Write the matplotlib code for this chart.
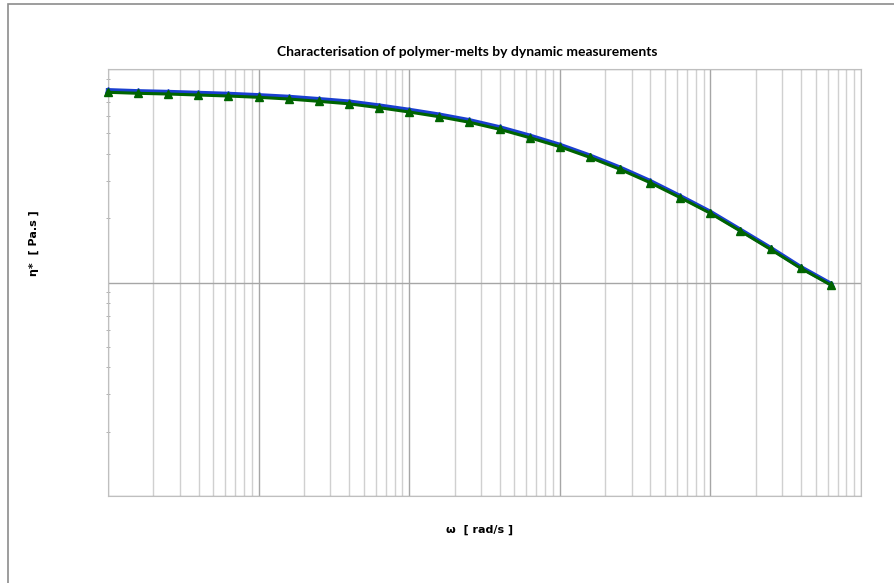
import numpy as np
import matplotlib
matplotlib.use('Agg')
import matplotlib.pyplot as plt
from matplotlib.patches import Rectangle
from matplotlib.ticker import LogLocator, NullFormatter

# angular frequency, 0.2 decade steps
omega = [0.01, 0.0158, 0.0251, 0.0398, 0.0631, 0.1, 0.158, 0.251, 0.398, 0.631,
         1.0, 1.58, 2.51, 3.98, 6.31, 10.0, 15.8, 25.1, 39.8, 63.1,
         100.0, 158.0, 251.0, 398.0, 631.0]
# complex viscosity, two measurements
eta_blue = [7950, 7860, 7800, 7720, 7640, 7530, 7400, 7220, 7030, 6740,
            6430, 6110, 5750, 5330, 4870, 4410, 3930, 3450, 2985, 2535,
            2140, 1765, 1450, 1180, 985]
eta_green = [7778, 7694, 7635, 7553, 7472, 7368, 7235, 7057, 6871, 6588,
             6289, 5978, 5629, 5219, 4768, 4326, 3858, 3390, 2934, 2496,
             2109, 1743, 1430, 1166, 973]

fig = plt.figure(figsize=(8.94, 5.83), dpi=100)
fig.patches.append(Rectangle((8 / 894, -0.05), 1.2, 1 - 4 / 583 + 0.05,
                             transform=fig.transFigure, fill=False,
                             edgecolor='#8c8c8c', linewidth=1.2))
ax = fig.add_axes([108 / 894, 1 - 496 / 583, 753 / 894, 427 / 583])

ax.plot(omega, eta_blue, color='#1a3fd0', lw=3.2, marker='^', ms=4,
        mec='#1a3fd0', mfc='#1a3fd0', zorder=3, clip_on=False)
ax.plot(omega, eta_green, color='#006400', lw=2.2, marker='^', ms=6,
        mec='#006400', mfc='#006400', zorder=4, clip_on=False)

ax.set_xscale('log')
ax.set_yscale('log')
ax.set_xlim(0.01, 1000)
ax.set_ylim(100, 10000)

ax.xaxis.set_minor_locator(LogLocator(base=10, subs=np.arange(2, 10)))
ax.yaxis.set_minor_locator(LogLocator(base=10, subs=np.arange(2, 10)))
ax.xaxis.set_major_formatter(NullFormatter())
ax.xaxis.set_minor_formatter(NullFormatter())
ax.yaxis.set_major_formatter(NullFormatter())
ax.yaxis.set_minor_formatter(NullFormatter())

ax.grid(True, which='major', axis='both', color='#a6a6a6', lw=1.0)
ax.grid(True, which='minor', axis='x', color='#d0d0d0', lw=1.0)
ax.tick_params(which='both', axis='x', length=0)
ax.tick_params(which='major', axis='y', length=0)
ax.tick_params(which='minor', axis='y', length=3, direction='inout',
               color='#a6a6a6')
for s in ax.spines.values():
    s.set_color('#bfbfbf')
ax.set_axisbelow(True)

fig.text(467 / 894, 1 - 52 / 583, 'Characterisation of polymer-melts by dynamic measurements',
         ha='center', va='center', fontsize=10, fontweight='bold', family=['Lato', 'DejaVu Sans'])
fig.text(480 / 894, 1 - 530 / 583, 'ω  [ rad/s ]', ha='center', va='center',
         fontsize=8, fontweight='bold', family=['Liberation Sans Narrow', 'DejaVu Sans'])
fig.text(34 / 894, 1 - 243 / 583, 'η*  [ Pa.s ]', ha='center', va='center',
         rotation=90, fontsize=8, fontweight='bold', family=['Liberation Sans Narrow', 'DejaVu Sans'])

fig.savefig('out.png', dpi=100)
